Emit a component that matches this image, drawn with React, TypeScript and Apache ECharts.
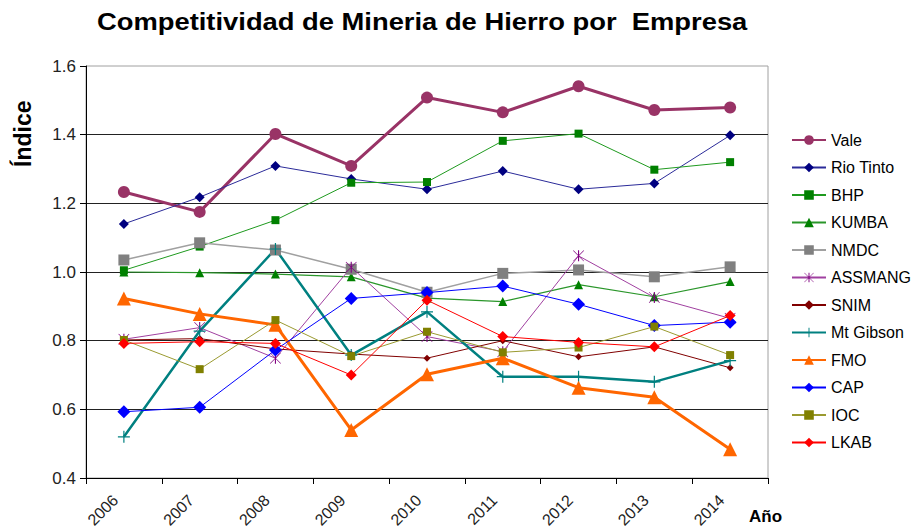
import React, { useEffect, useRef } from "react";
import * as echarts from "echarts";

const years = ["2006", "2007", "2008", "2009", "2010", "2011", "2012", "2013", "2014"];
const yTicks = [0.4, 0.6, 0.8, 1.0, 1.2, 1.4, 1.6];

const vale = [1.233, 1.175, 1.402, 1.309, 1.508, 1.465, 1.541, 1.472, 1.479];
const rioTinto = [1.14, 1.218, 1.309, 1.271, 1.241, 1.294, 1.241, 1.258, 1.398];
const bhp = [1.005, 1.074, 1.151, 1.26, 1.262, 1.382, 1.403, 1.298, 1.32];
const kumba = [1.0, 0.998, 0.994, 0.986, 0.924, 0.914, 0.963, 0.928, 0.972];
const nmdc = [1.035, 1.085, 1.064, 1.008, 0.941, 0.996, 1.006, 0.986, 1.015];
const assmang = [0.804, 0.838, 0.749, 1.014, 0.812, 0.768, 1.047, 0.926, 0.865];
const snim = [0.802, 0.806, 0.776, 0.761, 0.749, 0.8, 0.753, 0.782, 0.721];
const mtGibson = [0.52, 0.828, 1.067, 0.758, 0.884, 0.695, 0.695, 0.68, 0.742];
const fmo = [0.923, 0.878, 0.846, 0.54, 0.702, 0.749, 0.663, 0.635, 0.484];
const cap = [0.593, 0.606, 0.773, 0.923, 0.94, 0.959, 0.906, 0.844, 0.854];
const ioc = [0.802, 0.717, 0.86, 0.755, 0.826, 0.766, 0.78, 0.841, 0.758];
const lkab = [0.792, 0.797, 0.792, 0.7, 0.918, 0.812, 0.795, 0.782, 0.873];

const ASTERISK =
  "path://M9,0h2v20h-2z M0.8,0 L20,19.2 L19.2,20 L0,0.8z M19.2,0 L20,0.8 L0.8,20 L0,19.2z";
const PLUS = "path://M9,0h2v20h-2z M0,9h20v2h-20z";

const FONT = "'Liberation Sans', Arial, sans-serif";

type Def = {
  name: string;
  data: number[];
  color: string;
  lineColor?: string;
  symbol: string;
  size: number;
  width: number;
};

const defs: Def[] = [
  { name: "Vale", data: vale, color: "#993366", symbol: "circle", size: 12, width: 3 },
  { name: "Rio Tinto", data: rioTinto, color: "#000080", lineColor: "#2b2b99", symbol: "diamond", size: 10, width: 1 },
  { name: "BHP", data: bhp, color: "#008000", lineColor: "#1f9a1f", symbol: "rect", size: 8, width: 1 },
  { name: "KUMBA", data: kumba, color: "#008000", lineColor: "#2a962a", symbol: "triangle", size: 9, width: 1.2 },
  { name: "NMDC", data: nmdc, color: "#808080", lineColor: "#a0a0a0", symbol: "rect", size: 11, width: 1.5 },
  { name: "ASSMANG", data: assmang, color: "#800080", lineColor: "#a040a0", symbol: ASTERISK, size: 11, width: 1 },
  { name: "SNIM", data: snim, color: "#800000", symbol: "diamond", size: 7, width: 1 },
  { name: "Mt Gibson", data: mtGibson, color: "#008080", symbol: PLUS, size: 12, width: 2.5 },
  { name: "FMO", data: fmo, color: "#FF6600", symbol: "triangle", size: 14, width: 3 },
  { name: "CAP", data: cap, color: "#0000FF", symbol: "diamond", size: 13, width: 1 },
  { name: "IOC", data: ioc, color: "#808000", lineColor: "#9a9a30", symbol: "rect", size: 8, width: 1 },
  { name: "LKAB", data: lkab, color: "#FF0000", symbol: "diamond", size: 11, width: 1 },
];

export default function App() {
  const ref = useRef<HTMLDivElement>(null);

  useEffect(() => {
    if (!ref.current) return;
    const chart = echarts.init(ref.current, undefined, { renderer: "svg" });
    chart.setOption({
      animation: false,
      backgroundColor: "#ffffff",
      textStyle: { fontFamily: FONT },
      grid: {
        left: 86,
        right: 147,
        top: 66,
        bottom: 53,
        outerBoundsMode: "none",
        containLabel: false,
        show: true,
        borderColor: "#a0a0a0",
        borderWidth: 1,
        backgroundColor: "#ffffff",
      },
      legend: {
        orient: "vertical",
        left: 786,
        top: 127,
        itemWidth: 34,
        itemHeight: 12,
        itemGap: 11.5,
        textStyle: { fontFamily: FONT, fontSize: 16, color: "#000" },
        data: defs.map((d) => d.name),
      },
      xAxis: {
        type: "category",
        data: years,
        boundaryGap: true,
        axisLine: { show: true, lineStyle: { color: "#000", width: 1 } },
        axisTick: { show: true, length: 6, lineStyle: { color: "#000" } },
        axisLabel: {
          rotate: 45,
          fontSize: 16,
          color: "#222",
          fontFamily: FONT,
          margin: 11,
          padding: [0, 12, 0, 0],
        },
        splitLine: { show: false },
      },
      yAxis: {
        type: "value",
        min: yTicks[0],
        max: yTicks[yTicks.length - 1],
        interval: 0.2,
        axisLine: { show: true, lineStyle: { color: "#000", width: 1 } },
        axisTick: { show: true, length: 6, lineStyle: { color: "#000" } },
        axisLabel: {
          fontSize: 17,
          color: "#222",
          fontFamily: FONT,
          margin: 10,
          formatter: (v: number) => v.toFixed(1),
        },
        splitLine: {
          show: true,
          showMinLine: false,
          showMaxLine: false,
          lineStyle: { color: "#222", width: 1 },
        },
      },
      graphic: [
        {
          type: "text",
          x: 97,
          y: 10,
          scaleX: 1.14,
          style: {
            text: "Competitividad de Mineria de Hierro por  Empresa",
            fontFamily: FONT,
            fontSize: 24,
            fontWeight: "bold",
            fill: "#000",
          },
        },
        {
          type: "text",
          x: 11,
          y: 167,
          rotation: Math.PI / 2,
          style: {
            text: "Índice",
            fontFamily: FONT,
            fontSize: 23,
            fontWeight: "bold",
            fill: "#000",
          },
        },
        {
          type: "text",
          x: 749,
          y: 508,
          style: {
            text: "Año",
            fontFamily: FONT,
            fontSize: 17,
            fontWeight: "bold",
            fill: "#000",
          },
        },
      ],
      series: defs.map((d) => ({
        name: d.name,
        type: "line",
        data: d.data,
        symbol: d.symbol,
        symbolSize: d.size,
        showAllSymbol: true,
        itemStyle: { color: d.color, borderWidth: 0 },
        lineStyle: { color: d.lineColor || d.color, width: d.width },
        emphasis: { disabled: true },
      })),
    });
    return () => chart.dispose();
  }, []);

  return (
    <div
      ref={ref}
      style={{ position: "fixed", left: 0, top: 0, width: 915, height: 531 }}
    />
  );
}
